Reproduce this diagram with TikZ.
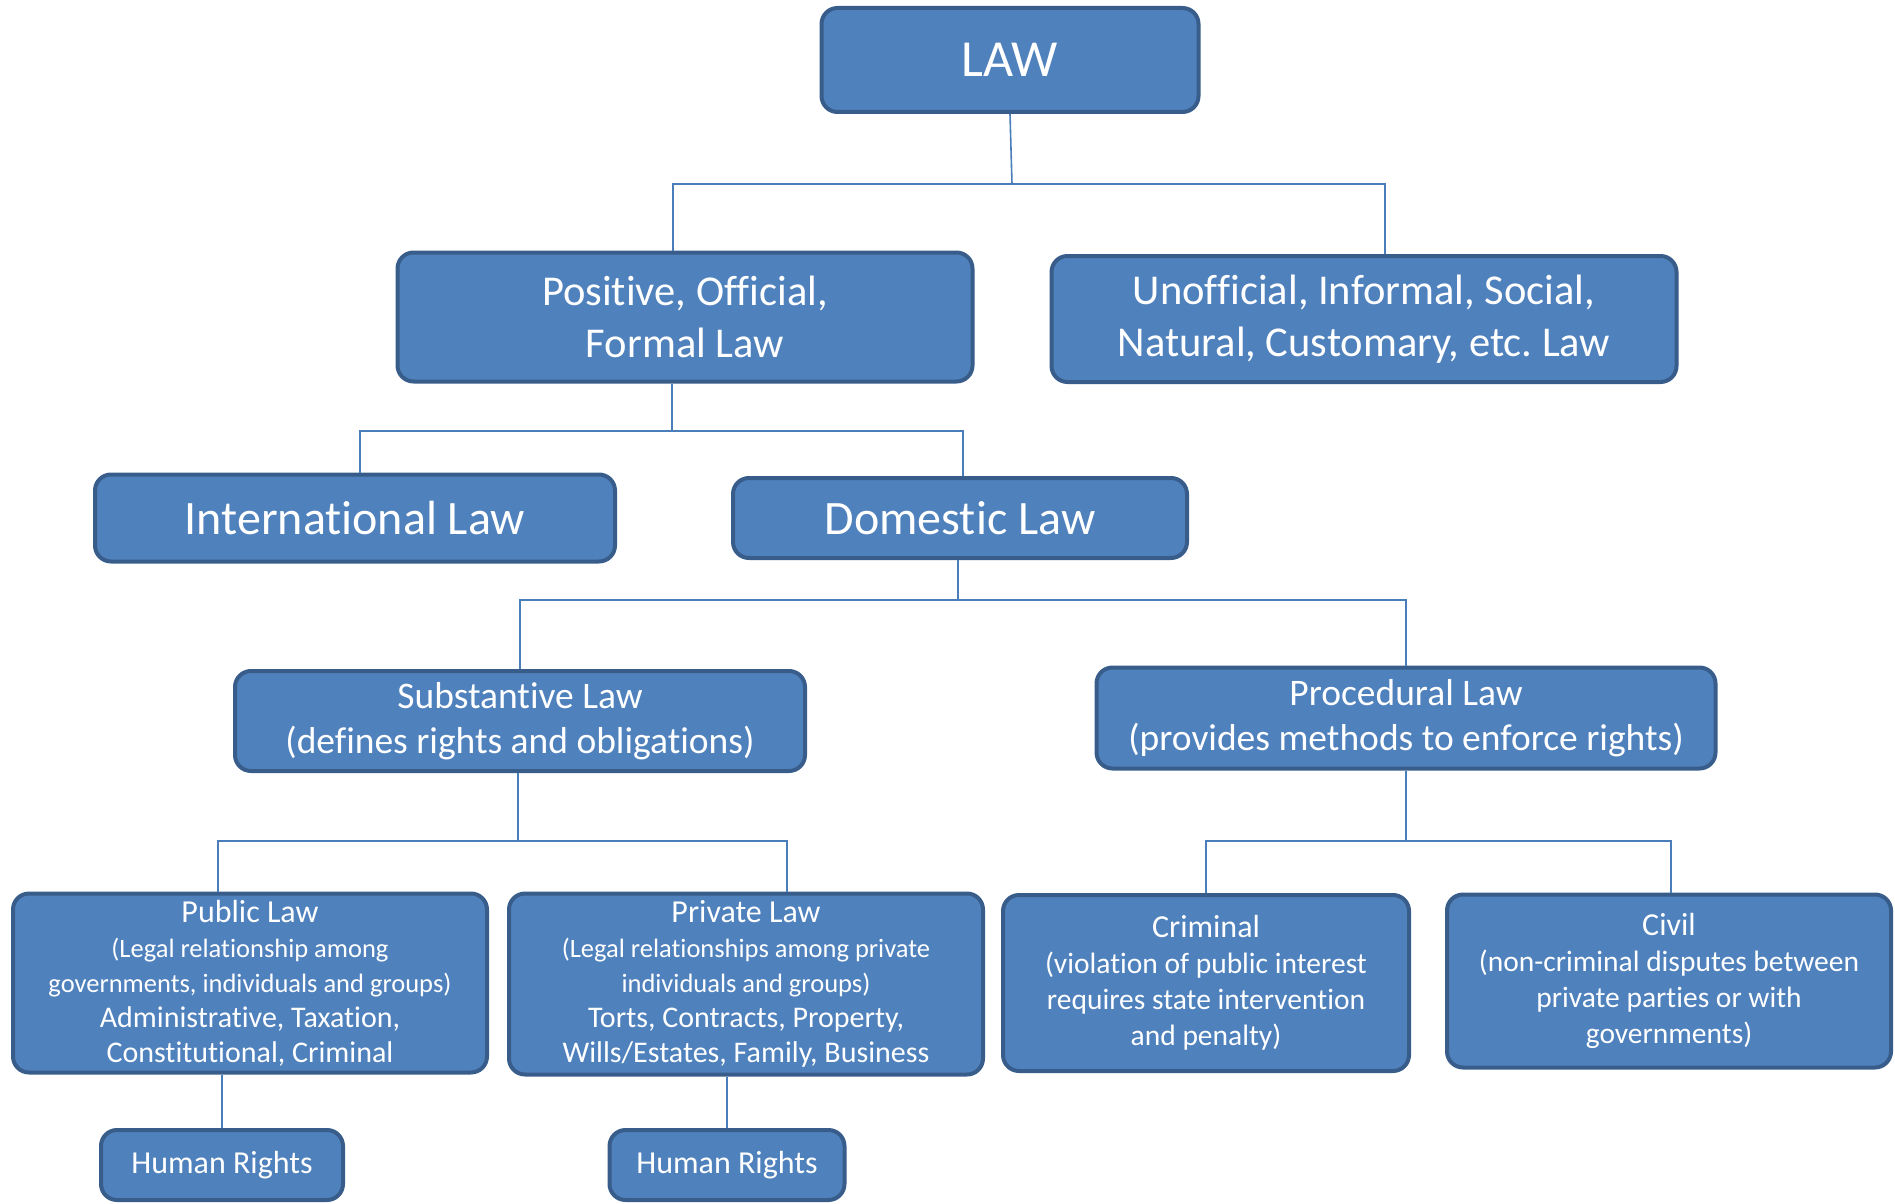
\documentclass[tikz,border=0pt]{standalone}
\usepackage{fontspec}
\setmainfont[Ligatures=NoCommon]{Carlito}
\usepackage{tikz}

\definecolor{boxblue}{HTML}{4F81BD}
\definecolor{boxedge}{HTML}{385D8A}
\definecolor{linkblue}{HTML}{4A7EBB}
\newcommand{\fsz}[2]{\fontsize{#1}{#2}\selectfont}

\begin{document}
\begin{tikzpicture}[x=1pt, y=-1pt,
    box/.style={draw=boxedge, fill=boxblue, line width=4pt, rounded corners=16pt,
                text=white, align=center, inner sep=0pt},
    link/.style={linkblue, line width=1.6pt}]
                \useasboundingbox (0,0) rectangle (1895,1204);

                % top level
                \node[box, minimum width=377pt, minimum height=104pt, font=\fsz{52}{62}]
                    (law) at (1010,60) {LAW};
                \node[box, minimum width=575pt, minimum height=129pt, font=\fsz{42.5}{52}]
                    (positive) at (685,317) {Positive, Official,\\Formal Law};
                \node[box, minimum width=625pt, minimum height=126pt, font=\fsz{42.5}{52}]
                    (unofficial) at (1364,319) {Unofficial, Informal, Social,\\Natural, Customary, etc.\ Law};

                % positive law
                \node[box, minimum width=520pt, minimum height=87pt, font=\fsz{48}{56}]
                    (intl) at (355,518) {International Law};
                \node[box, minimum width=454pt, minimum height=80pt, font=\fsz{48}{56}]
                    (domestic) at (960,518) {Domestic Law};

                % domestic law
                \node[box, minimum width=570pt, minimum height=100pt, font=\fsz{37.5}{45}]
                    (substantive) at (520,721) {Substantive Law\\(defines rights and obligations)};
                \node[box, minimum width=619pt, minimum height=101pt, font=\fsz{37.5}{45}]
                    (procedural) at (1406,718) {Procedural Law\\(provides methods to enforce rights)};

                % substantive law
                \node[box, minimum width=474pt, minimum height=179pt, font=\fsz{26.5}{35}]
                    (public) at (250,983) {\fsz{32}{35}Public Law\\(Legal relationship among\\
                    governments, individuals and groups)\\\fsz{30}{35}Administrative, Taxation,\\
                    \fsz{30}{35}Constitutional, Criminal};
                \node[box, minimum width=474pt, minimum height=181pt, font=\fsz{26.5}{35}]
                    (private) at (746,984) {\fsz{32}{35}Private Law\\(Legal relationships among private\\
                    individuals and groups)\\\fsz{30}{35}Torts, Contracts, Property,\\
                    \fsz{30}{35}Wills/Estates, Family, Business};

                % procedural law
                \node[box, minimum width=406pt, minimum height=176pt, font=\fsz{29.5}{36}]
                    (criminal) at (1206,983) {\fsz{32}{36}Criminal\\(violation of public interest\\
                    requires state intervention\\and penalty)};
                \node[box, minimum width=444pt, minimum height=173pt, font=\fsz{29.5}{36}]
                    (civil) at (1669,981) {\fsz{32}{36}Civil\\(non-criminal disputes between\\
                    private parties or with\\governments)};

                % human rights
                \node[box, minimum width=242pt, minimum height=70pt, font=\fsz{32}{36}]
                    (rights1) at (222,1165) {Human Rights};
                \node[box, minimum width=235pt, minimum height=70pt, font=\fsz{32}{36}]
                    (rights2) at (727,1165) {Human Rights};

                % junctions
                \coordinate (j1) at (1012,184);
                \coordinate (j2) at (672,431);
                \coordinate (j3) at (958,600);
                \coordinate (j4) at (518,841);
                \coordinate (j5) at (1406,841);

                \draw[link] (law.south) -- (j1);
                \draw[link] ([xshift=-12pt]positive.north) |- (j1) -| ([xshift=21pt]unofficial.north);

                \draw[link] ([xshift=-13pt]positive.south) -- (j2);
                \draw[link] ([xshift=5pt]intl.north) |- (j2) -| ([xshift=3pt]domestic.north);

                \draw[link] ([xshift=-2pt]domestic.south) -- (j3);
                \draw[link] (substantive.north) |- (j3) -| (procedural.north);

                \draw[link] ([xshift=-2pt]substantive.south) -- (j4);
                \draw[link] ([xshift=-32pt]public.north) |- (j4) -| ([xshift=41pt]private.north);

                \draw[link] (procedural.south) -- (j5);
                \draw[link] (criminal.north) |- (j5) -| ([xshift=2pt]civil.north);

                \draw[link] (rights1.north) -- (rights1.north |- public.south);
                \draw[link] (rights2.north) -- (rights2.north |- private.south);

            \end{tikzpicture}
\end{document}
